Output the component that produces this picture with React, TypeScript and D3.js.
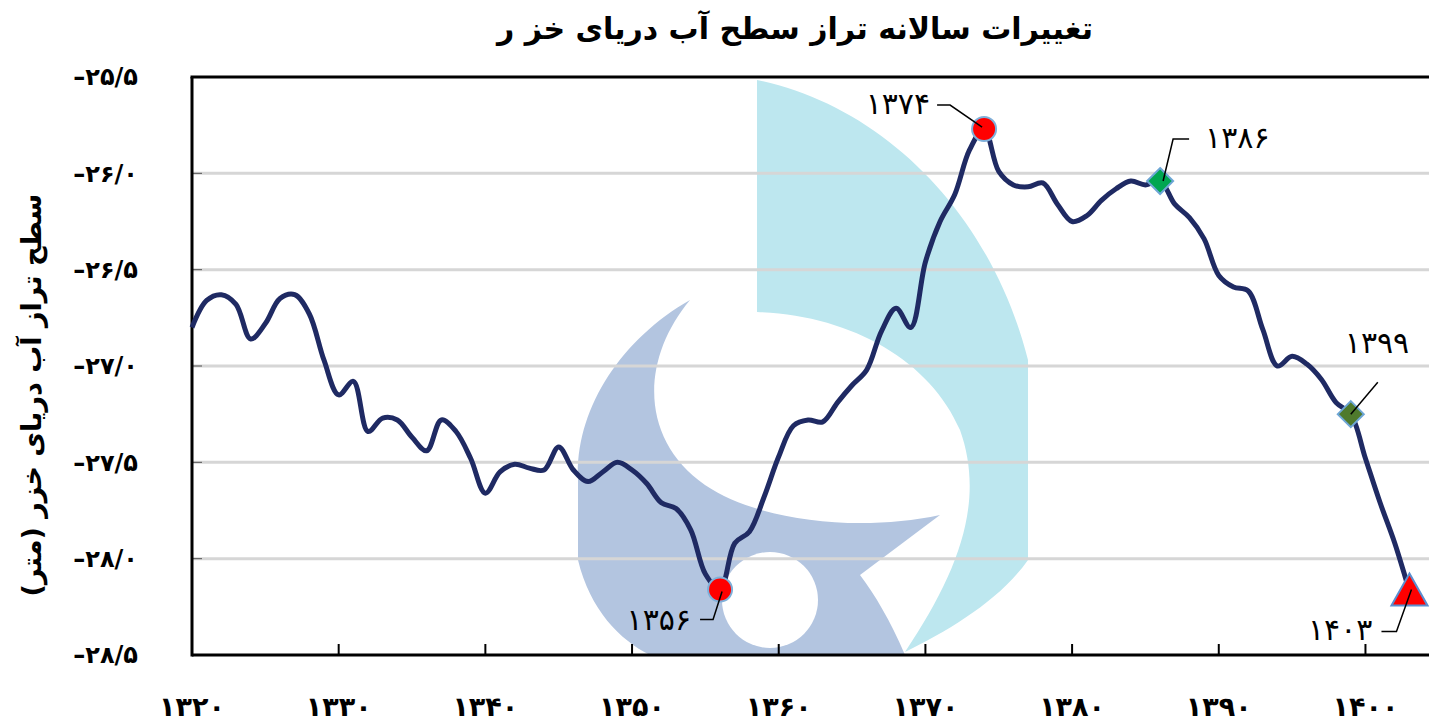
import React from "react";
import * as d3 from "d3";

const years: number[] = d3.range(1320, 1404);
const levels: number[] = [
  -26.80, -26.66, -26.63, -26.68, -26.86, -26.78, -26.65, -26.63, -26.73, -26.97,
  -27.15, -27.08, -27.34, -27.27, -27.28, -27.37, -27.44, -27.28, -27.34, -27.48,
  -27.66, -27.55, -27.51, -27.53, -27.54, -27.42, -27.54, -27.60, -27.55, -27.50,
  -27.54, -27.61, -27.71, -27.74, -27.85, -28.08, -28.16, -27.92, -27.86, -27.68,
  -27.47, -27.31, -27.28, -27.29, -27.19, -27.10, -27.02, -26.82, -26.70, -26.80,
  -26.46, -26.25, -26.11, -25.88, -25.77, -25.99, -26.06, -26.07, -26.05, -26.16,
  -26.25, -26.22, -26.14, -26.08, -26.04, -26.06, -26.04, -26.16, -26.23, -26.34,
  -26.53, -26.59, -26.61, -26.81, -27.00, -26.95, -26.99, -27.07, -27.19, -27.25,
  -27.48, -27.71, -27.92, -28.17,
];
const yTicks: number[] = [-25.5, -26, -26.5, -27, -27.5, -28, -28.5];
const xTicks: number[] = [1320, 1330, 1340, 1350, 1360, 1370, 1380, 1390, 1400];
const markerYears: number[] = [1356, 1374, 1386, 1399, 1403];
const markerShapes: string[] = ["circle", "circle", "diamond", "diamond", "triangle"];
const markerFills: string[] = ["#ff0000", "#ff0000", "#00a651", "#4f7a2c", "#ff0000"];

const title = "تغییرات سالانه تراز سطح آب دریای خز ر";
const yLabel = "سطح تراز آب دریای خزر  (متر)";

const W = 1429, H = 722;
const left = 192, top = 77, bottom = 655;

const fa = (s: string) => s.replace(/[0-9]/g, (d) => "۰۱۲۳۴۵۶۷۸۹"[+d]);
const fmtY = (v: number) => "–" + fa(Math.abs(v).toFixed(1).replace(".", "/"));

const FONT = "'DejaVu Sans', sans-serif";

export default function App() {
  const x = d3.scaleLinear().domain([1320, 1404.4]).range([left, W + 1]);
  const y = d3.scaleLinear().domain([-28.5, -25.5]).range([bottom, top]);
  const pts = years.map((yr, i) => [yr, levels[i]] as [number, number]);
  const line = d3
    .line<[number, number]>()
    .x((d) => x(d[0]))
    .y((d) => y(d[1]))
    .curve(d3.curveCatmullRom.alpha(0.5));

  const val = (yr: number) => levels[years.indexOf(yr)];

  const ann: Record<number, { lx: number; ly: number; anchor: string; path: [number, number][] }> = {
    1356: { lx: -29, ly: 30, anchor: "end", path: [[-20, 30], [-7, 30], [2, 2]] },
    1374: { lx: -54, ly: -26, anchor: "end", path: [[-47, -24], [-34, -24], [-2, -2]] },
    1386: { lx: 45, ly: -44, anchor: "start", path: [[29, -42], [13, -42], [3, 0]] },
    1399: { lx: -6, ly: -72, anchor: "start", path: [[27, -32], [0, 0]] },
    1403: { lx: -37, ly: 38, anchor: "end", path: [[-28, 40], [-13, 40], [2, -2]] },
  };

  return (
    <svg width={W} height={H} style={{ position: "absolute", left: 0, top: 0, background: "#fff" }}>
      <rect width={W} height={H} fill="#fff" />
      <g>
        <path
          d="M757,80 C880,105 990,210 1028,360 L1028,560 C1000,600 950,630 905,652 C960,570 985,500 960,430 C930,360 850,315 757,312 Z"
          fill="#bde7ef"
        />
        <path
          d="M690,300 C620,340 575,410 578,480 L578,560 C590,610 620,640 650,655 L905,655 C890,620 875,595 860,575 L940,515 C860,532 760,522 705,485 C640,440 640,360 690,300 Z"
          fill="#b3c5e0"
        />
        <circle cx={770} cy={600} r={48} fill="#fff" />
      </g>
      {yTicks.slice(1, -1).map((t) => (
        <g key={t}>
          <line x1={left} x2={W} y1={y(t)} y2={y(t)} stroke="#d6d6d6" strokeWidth={3} />
          <line x1={left} x2={left + 10} y1={y(t)} y2={y(t)} stroke="#555" strokeWidth={1} />
        </g>
      ))}
      <line x1={left - 1.5} x2={W} y1={top} y2={top} stroke="#000" strokeWidth={3} />
      <line x1={left} x2={left} y1={top} y2={bottom + 1.5} stroke="#000" strokeWidth={3} />
      <line x1={left} x2={W} y1={bottom} y2={bottom} stroke="#000" strokeWidth={3} />
      {xTicks.map((t) => (
        <line key={t} x1={x(t)} x2={x(t)} y1={bottom} y2={bottom - 11} stroke="#000" strokeWidth={2} />
      ))}
      {yTicks.map((t) => (
        <text key={t} x={138} y={y(t)} dy="0.35em" textAnchor="end" fontFamily={FONT} fontWeight="bold" fontSize={24} fill="#000">
          {fmtY(t)}
        </text>
      ))}
      {xTicks.map((t) => (
        <text key={t} x={x(t)} y={716} textAnchor="middle" fontFamily={FONT} fontWeight="bold" fontSize={27} fill="#000">
          {fa(String(t))}
        </text>
      ))}
      <path d={line(pts) || ""} fill="none" stroke="#1f2a63" strokeWidth={5} strokeLinejoin="round" />
      {markerYears.map((yr, i) => {
        const cx = x(yr), cy = y(val(yr));
        const a = ann[yr];
        const shape = markerShapes[i];
        let m;
        if (shape === "circle") m = <circle cx={cx} cy={cy} r={12} fill={markerFills[i]} stroke="#7fb0da" strokeWidth={2} />;
        else if (shape === "diamond")
          m = <path d={`M${cx},${cy - 13} L${cx + 13},${cy} L${cx},${cy + 13} L${cx - 13},${cy} Z`} fill={markerFills[i]} stroke="#6ea6d6" strokeWidth={2} />;
        else
          m = <path d={`M${cx},${cy - 18} L${cx + 18},${cy + 14} L${cx - 18},${cy + 14} Z`} fill={markerFills[i]} stroke="#5b8fd0" strokeWidth={2} />;
        return (
          <g key={yr}>
            {m}
            <polyline points={a.path.map((p) => `${cx + p[0]},${cy + p[1]}`).join(" ")} fill="none" stroke="#000" strokeWidth={1.5} />
            <text x={cx + a.lx} y={cy + a.ly} textAnchor={a.anchor as any} dy="0.35em" fontFamily={FONT} fontSize={30} fill="#000">
              {fa(String(yr))}
            </text>
          </g>
        );
      })}
      <text x={795} y={39} textAnchor="middle" fontFamily={FONT} fontWeight="bold" fontSize={30} fill="#000" direction="rtl">
        {title}
      </text>
      <text transform={`translate(32,395) rotate(-90)`} textAnchor="middle" dy="0.35em" fontFamily={FONT} fontWeight="bold" fontSize={27} fill="#000" direction="rtl">
        {yLabel}
      </text>
    </svg>
  );
}
